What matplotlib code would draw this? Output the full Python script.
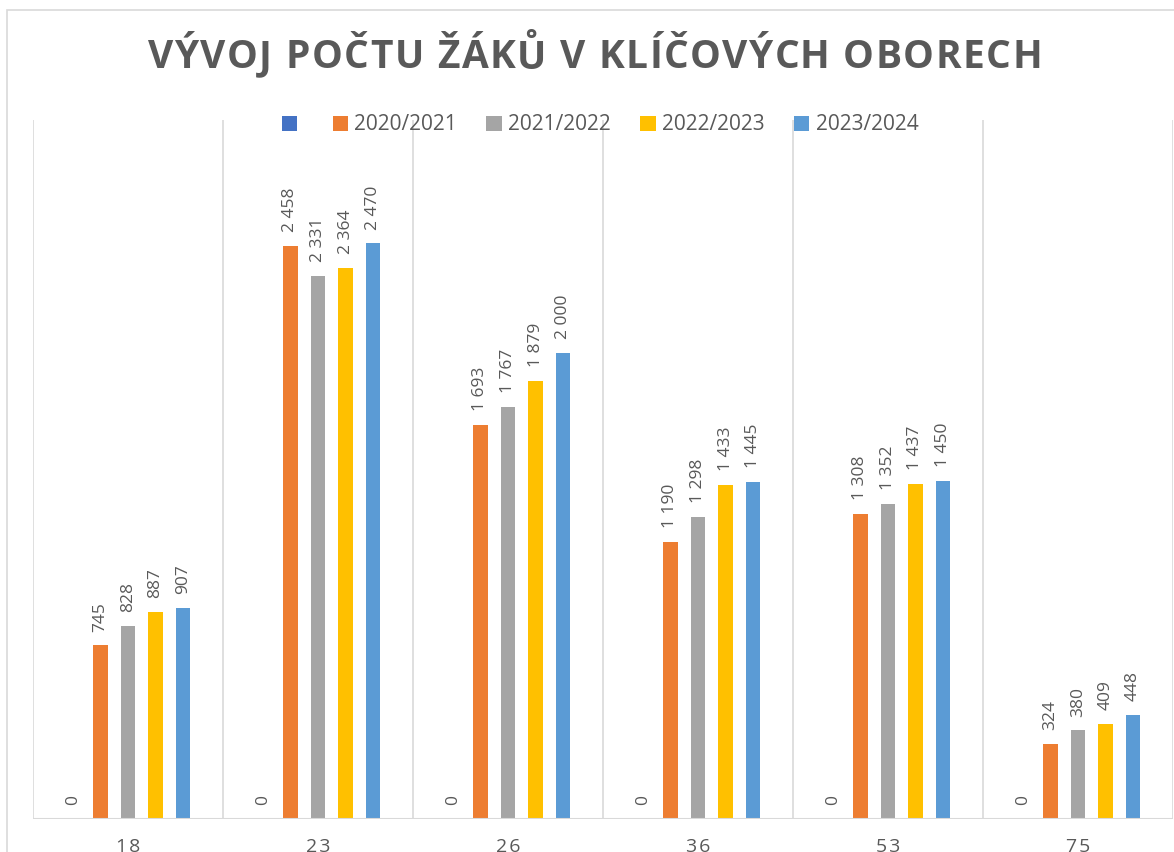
import numpy as np
import matplotlib
matplotlib.use('Agg')
import matplotlib.pyplot as plt
from matplotlib.patches import Rectangle, Patch

# data
categories = ['18', '23', '26', '36', '53', '75']
series_names = ['', '2020/2021', '2021/2022', '2022/2023', '2023/2024']
values_blank = [0, 0, 0, 0, 0, 0]
values_2020 = [745, 2458, 1693, 1190, 1308, 324]
values_2021 = [828, 2331, 1767, 1298, 1352, 380]
values_2022 = [887, 2364, 1879, 1433, 1437, 409]
values_2023 = [907, 2470, 2000, 1445, 1450, 448]
colors = ['#4472C4', '#ED7D31', '#A5A5A5', '#FFC000', '#5B9BD5']
title = 'VÝVOJ POČTU ŽÁKŮ V KLÍČOVÝCH OBORECH'

all_series = [values_blank, values_2020, values_2021, values_2022, values_2023]

text_color = '#595959'
plt.rcParams['font.family'] = ['Open Sans', 'DejaVu Sans']

W, H = 1174, 852
fig = plt.figure(figsize=(W / 100, H / 100), dpi=100)
fig.patches.append(Rectangle((7 / W, -0.1), 1.2, 0.1 + (H - 10) / H,
                             transform=fig.transFigure, fill=False,
                             edgecolor='#D9D9D9', linewidth=1.2))

ax = fig.add_axes([33 / W, 33 / H, 1140 / W, 699 / H])

x = np.arange(len(categories))
slot = 27.5 / 190
width = 14.5 / 190


def fmt(v):
    return f'{v:,}'.replace(',', ' ')


for i, (vals, col) in enumerate(zip(all_series, colors)):
    pos = x + (i - 2) * slot
    ax.bar(pos, vals, width=width, color=col, zorder=3)
    for p, v in zip(pos, vals):
        ax.annotate(fmt(v), (p, v), xytext=(0, 10), textcoords='offset points',
                    rotation=90, ha='center', va='bottom', fontsize=12.5,
                    color=text_color)

ax.set_xlim(-0.5, len(categories) - 0.5)
ax.set_ylim(0, 3000)
for b in np.arange(-0.5, len(categories), 1.0):
    ax.axvline(b, color='#D9D9D9', linewidth=1.2, zorder=1)
ax.axhline(0, color='#D9D9D9', linewidth=1.5, zorder=4)

for s in ax.spines.values():
    s.set_visible(False)
ax.set_yticks([])
ax.set_xticks(x)
ax.set_xticklabels(['\u200a'.join(c) for c in categories], fontsize=14,
                   color=text_color)
ax.tick_params(axis='x', length=0, pad=14)

# title with wide letter tracking: place each character separately
renderer = fig.canvas.get_renderer()
tkw = dict(fontsize=28, fontweight='bold', color=text_color)


def text_w(s):
    t = fig.text(0, 0, s, **tkw)
    w = t.get_window_extent(renderer).width
    t.remove()
    return w


tracking = 1.6
ref_w = text_w('I')
lefts = [text_w(title[:i] + 'I') - ref_w if i else 0 for i in range(len(title))]
total = text_w(title) + tracking * (len(title) - 1)
x0 = 595 - total / 2
for i, ch in enumerate(title):
    if ch == ' ':
        continue
    fig.text((x0 + lefts[i] + tracking * i) / W, 1 - 58 / H, ch,
             ha='left', va='center', **tkw)

handles = [Patch(facecolor=c, edgecolor='none') for c in colors]
fig.legend(handles, series_names, loc='center', ncol=5,
           bbox_to_anchor=(600 / W, 1 - 125 / H), frameon=False,
           fontsize=15, labelcolor=text_color, handlelength=0.75,
           handleheight=0.75, handletextpad=0.3, columnspacing=1.4)

fig.savefig('out.png', dpi=100)
